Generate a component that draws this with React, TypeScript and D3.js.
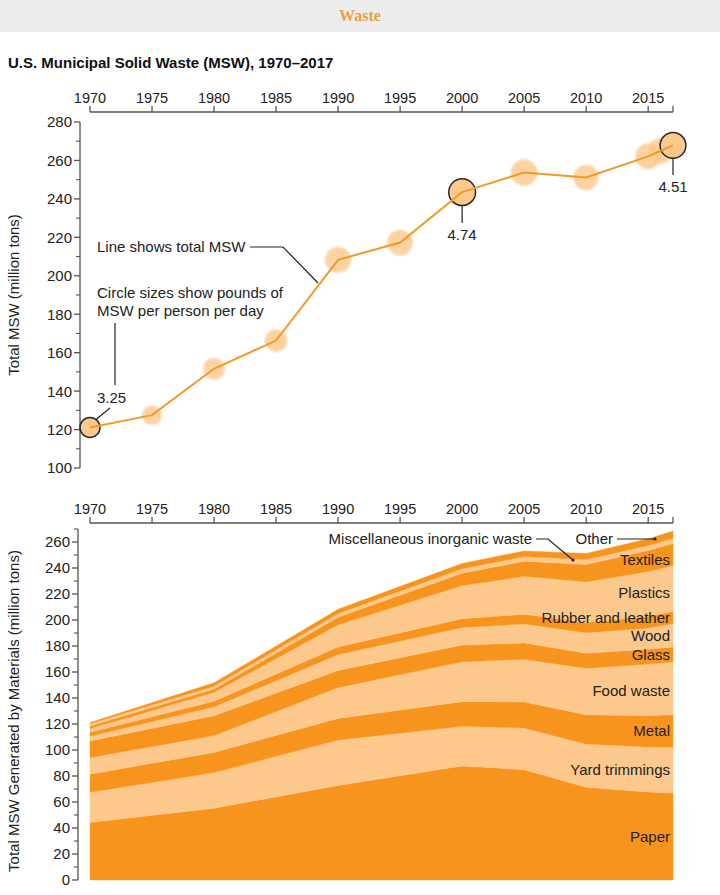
import React from 'react'
import * as d3 from 'd3'

// top chart: total MSW and pounds per person per day
const totalYears = [1970, 1975, 1980, 1985, 1990, 1995, 2000, 2005, 2010, 2015, 2016, 2017]
const totalMsw = [121.1, 127.5, 151.6, 166.3, 208.3, 217.3, 243.5, 253.7, 251.1, 262.1, 265.0, 267.8]
const perPerson = [3.25, 3.25, 3.66, 3.83, 4.57, 4.52, 4.74, 4.69, 4.44, 4.48, 4.49, 4.51]
const calledOut = [1970, 2000, 2017]

// bottom chart: materials generated (million tons)
const materialYears = [1970, 1980, 1990, 2000, 2005, 2010, 2015, 2017]
const materialNames = [
    'Paper', 'Yard trimmings', 'Metal', 'Food waste', 'Glass', 'Wood',
    'Rubber and leather', 'Plastics', 'Textiles', 'Miscellaneous inorganic waste', 'Other',
]
const paper = [44.31, 55.16, 72.73, 87.74, 84.84, 71.31, 67.63, 67.01]
const yardTrimmings = [23.2, 27.5, 35.0, 30.53, 32.07, 33.4, 34.72, 35.2]
const metal = [13.83, 15.51, 16.55, 18.94, 19.92, 22.41, 24.03, 25.01]
const foodWaste = [12.8, 13.0, 23.86, 30.7, 32.93, 35.74, 39.73, 40.7]
const glass = [12.74, 15.13, 13.1, 12.77, 12.54, 11.53, 11.47, 11.38]
const wood = [3.72, 7.01, 12.21, 13.57, 14.79, 15.88, 16.3, 18.09]
const rubberLeather = [2.97, 4.2, 5.79, 6.71, 7.29, 7.75, 8.97, 9.16]
const plastics = [2.9, 6.83, 17.13, 25.55, 29.25, 31.4, 34.48, 35.37]
const textiles = [2.04, 2.53, 5.81, 9.48, 11.51, 13.22, 16.07, 16.89]
const miscInorganic = [1.78, 2.25, 2.9, 3.5, 3.69, 3.84, 3.94, 4.0]
const other = [0.77, 2.52, 3.19, 4.0, 4.29, 4.71, 5.16, 5.58]
const materialSeries = [paper, yardTrimmings, metal, foodWaste, glass, wood, rubberLeather, plastics, textiles, miscInorganic, other]

const tickYears = [1970, 1975, 1980, 1985, 1990, 1995, 2000, 2005, 2010, 2015]

const DARK = '#f7941e'
const LIGHT = '#fcc88c'
const INK = '#222'
const AXIS = '#555'
const FONT = '"Liberation Sans", Arial, Helvetica, sans-serif'

const x = d3.scaleLinear().domain([1970, 2017]).range([90, 673])

const XAxis = ({ y, labelY }: { y: number; labelY: number }) => (
    <g>
        <line x1={x(1970)} x2={x(2017)} y1={y} y2={y} stroke={AXIS} strokeWidth={1.3} />
        {[...tickYears, 2017].map(t => (
            <line key={t} x1={x(t)} x2={x(t)} y1={y} y2={y - 6} stroke={AXIS} strokeWidth={1.3} />
        ))}
        {tickYears.map(t => (
            <text key={t} x={x(t)} y={labelY} textAnchor="middle" fontSize={14.5} fill={INK}>{t}</text>
        ))}
    </g>
)

const YAxis = ({ scale, axisX, majors, minors }: { scale: d3.ScaleLinear<number, number>; axisX: number; majors: number[]; minors: number[] }) => {
    const [d0, d1] = scale.domain()
    return (
        <g>
            <line x1={axisX} x2={axisX} y1={scale(d0)} y2={scale(d1)} stroke={AXIS} strokeWidth={1.3} />
            {minors.map(t => (
                <line key={'m' + t} x1={axisX - 4} x2={axisX} y1={scale(t)} y2={scale(t)} stroke={AXIS} strokeWidth={1.1} />
            ))}
            {majors.map(t => (
                <g key={t}>
                    <line x1={axisX - 6} x2={axisX} y1={scale(t)} y2={scale(t)} stroke={AXIS} strokeWidth={1.3} />
                    <text x={axisX - 8} y={scale(t)} dy="0.36em" textAnchor="end" fontSize={15} fill={INK}>{t}</text>
                </g>
            ))}
        </g>
    )
}

const TotalChart = () => {
    const y = d3.scaleLinear().domain([100, 280]).range([468, 122])
    const r = d3.scaleLinear().domain([3.25, 4.74]).range([10, 13.4])
    const pts = totalYears.map((yr, i) => ({ yr, v: totalMsw[i], p: perPerson[i] }))
    const line = d3.line<typeof pts[number]>().x(d => x(d.yr)).y(d => y(d.v))
    const majors = d3.range(100, 281, 20)
    const minors = d3.range(110, 280, 20)
    const call = (yr: number) => pts.find(d => d.yr === yr)!

    const c1970 = call(1970), c2000 = call(2000), c2017 = call(2017)
    return (
        <g>
            <XAxis y={112} labelY={103} />
            <YAxis scale={y} axisX={80} majors={majors} minors={minors} />
            <text transform={`translate(19,${y(190)}) rotate(-90)`} textAnchor="middle" fontSize={15} fill={INK}>Total MSW (million tons)</text>

            {pts.filter(d => !calledOut.includes(d.yr)).map(d => (
                <circle key={d.yr} cx={x(d.yr)} cy={y(d.v)} r={r(d.p)} fill={LIGHT} opacity={0.8} filter="url(#soft)" />
            ))}
            {pts.filter(d => calledOut.includes(d.yr)).map(d => (
                <circle key={d.yr} cx={x(d.yr)} cy={y(d.v)} r={r(d.p)} fill={LIGHT} stroke="#2a2a2a" strokeWidth={1.5} />
            ))}
            <path d={line(pts) ?? ''} fill="none" stroke="#f39a26" strokeWidth={2} />

            {/* annotations */}
            <text x={97} y={252} fontSize={15} fill={INK}>Line shows total MSW</text>
            <polyline points="250,247 283,247 318,283" fill="none" stroke={INK} strokeWidth={1.2} />
            <text x={97} y={298} fontSize={15} fill={INK}>Circle sizes show pounds of</text>
            <text x={97} y={316} fontSize={15} fill={INK}>MSW per person per day</text>
            <line x1={115} x2={115} y1={323} y2={385} stroke={INK} strokeWidth={1.2} />
            <text x={97} y={403} fontSize={15} fill={INK}>{c1970.p.toFixed(2)}</text>
            <line x1={110} x2={x(1970) + 6} y1={408} y2={y(c1970.v) - 8} stroke={INK} strokeWidth={1.2} />
            <line x1={x(2000)} x2={x(2000)} y1={y(c2000.v) + r(c2000.p)} y2={223} stroke={INK} strokeWidth={1.2} />
            <text x={x(2000)} y={240} textAnchor="middle" fontSize={15} fill={INK}>{c2000.p.toFixed(2)}</text>
            <line x1={x(2017)} x2={x(2017)} y1={y(c2017.v) + r(c2017.p)} y2={175} stroke={INK} strokeWidth={1.2} />
            <text x={x(2017)} y={192} textAnchor="middle" fontSize={15} fill={INK}>{c2017.p.toFixed(2)}</text>
        </g>
    )
}

const MaterialsChart = () => {
    const y = d3.scaleLinear().domain([0, 270]).range([880, 529])
    const rows = materialYears.map((yr, i) => {
        const row: Record<string, number> = { year: yr }
        materialNames.forEach((n, k) => { row[n] = materialSeries[k][i] })
        return row
    })
    const layers = d3.stack<Record<string, number>>().keys(materialNames)(rows)
    const area = d3.area<d3.SeriesPoint<Record<string, number>>>()
        .x(d => x(d.data.year))
        .y0(d => y(d[0]))
        .y1(d => y(d[1]))
        .curve(d3.curveLinear)
    const majors = d3.range(0, 261, 20)
    const minors = d3.range(10, 271, 20)
    const labelNudge: Record<string, number> = { Plastics: 4, Textiles: 5, 'Food waste': 2 }

    return (
        <g>
            <XAxis y={523} labelY={514} />
            <YAxis scale={y} axisX={78} majors={majors} minors={minors} />
            <text transform={`translate(19,${y(130)}) rotate(-90)`} textAnchor="middle" fontSize={15} fill={INK}>Total MSW Generated by Materials (million tons)</text>
            {layers.map((l, i) => (
                <path key={l.key} d={area(l) ?? ''} fill={i % 2 === 0 ? DARK : LIGHT} stroke={i % 2 === 0 ? DARK : LIGHT} strokeWidth={0.4} strokeLinejoin="round" />
            ))}
            {layers.slice(0, 9).map(l => {
                const last = l[l.length - 1]
                return (
                    <text key={l.key} x={670} y={y((last[0] + last[1]) / 2) + (labelNudge[l.key] ?? 0)} dy="0.36em"
                        textAnchor="end" fontSize={15} fill={INK}>{l.key}</text>
                )
            })}
            <text x={613} y={539} dy="0.36em" textAnchor="end" fontSize={15} fill={INK}>Other</text>
            <line x1={617} x2={655} y1={539} y2={539} stroke={INK} strokeWidth={1.2} />
            <circle cx={655} cy={539} r={1.6} fill={INK} />
            <text x={532} y={539} dy="0.36em" textAnchor="end" fontSize={15} fill={INK}>Miscellaneous inorganic waste</text>
            <polyline points="536,539 548,539 573,560" fill="none" stroke={INK} strokeWidth={1.2} />
            <circle cx={573} cy={560} r={1.6} fill={INK} />
        </g>
    )
}

export default function App() {
    return (
        <div style={{ position: 'absolute', left: 0, top: 0 }}>
            <svg width={720} height={895} style={{ display: 'block', fontFamily: FONT }}>
                <defs>
                    <filter id="soft" x="-20%" y="-20%" width="140%" height="140%">
                        <feGaussianBlur stdDeviation={0.8} />
                    </filter>
                </defs>
                <rect x={0} y={0} width={720} height={895} fill="#fff" />
                <rect x={0} y={0} width={720} height={32} fill="#ececec" />
                <text x={360} y={21} textAnchor="middle" fontSize={16} fontWeight="bold"
                    fontFamily='"Liberation Serif", "DejaVu Serif", serif' fill="#e8a23e">Waste</text>
                <text x={8} y={68} fontSize={15} fontWeight="bold" fill="#111">U.S. Municipal Solid Waste (MSW), 1970–2017</text>
                <TotalChart />
                <MaterialsChart />
            </svg>
        </div>
    )
}
